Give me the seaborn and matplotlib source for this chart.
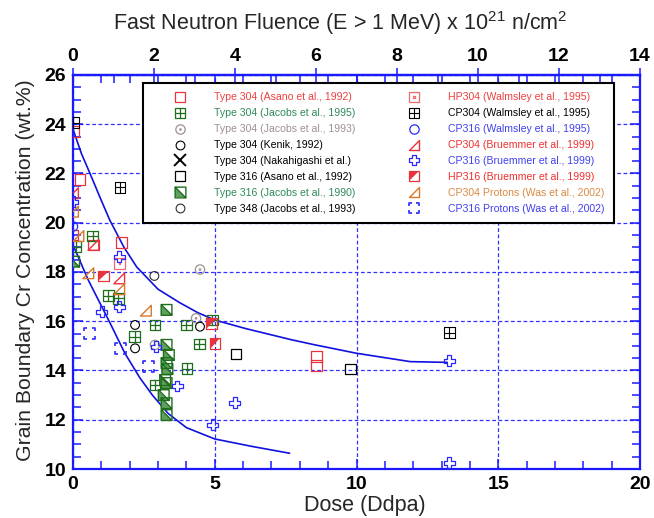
import numpy as np
import matplotlib
matplotlib.use("Agg")
import matplotlib.pyplot as plt
import seaborn as sns
from matplotlib.path import Path
from matplotlib.lines import Line2D
from matplotlib.ticker import MultipleLocator

# ---------------- data ----------------
asano304_x = [0.02, 0.25, 0.00, 1.72, 0.72, 8.60, 8.60]
asano304_y = [23.70, 21.75, 19.50, 19.20, 19.10, 14.56, 14.20]

jacobs95_x = [0.69, 0.10, 1.25, 1.60, 2.17, 2.89, 4.00, 4.46, 4.02, 2.89, 4.91]
jacobs95_y = [19.46, 19.03, 17.04, 16.93, 15.37, 15.85, 15.85, 15.08, 14.08, 13.41, 16.05]

jacobs93_x = [4.48, 4.34, 2.89]
jacobs93_y = [18.10, 16.12, 15.04]

kenik_x = [2.19, 2.19, 4.48]
kenik_y = [15.85, 14.90, 15.78]

naka_x = [0.48, 1.31, 7.22]
naka_y = [17.60, 15.85, 16.66]

asano316_x = [5.75, 9.80]
asano316_y = [14.67, 14.06]

jacobs90_x = [0.04, 3.30, 3.30, 3.38, 3.30, 3.33, 3.25, 3.30, 3.20, 3.30, 3.30]
jacobs90_y = [18.42, 16.46, 15.04, 14.63, 14.30, 14.06, 13.61, 13.49, 13.00, 12.67, 12.19]

t348_x = [2.87]
t348_y = [17.84]

hp304w_x = [1.63]
hp304w_y = [18.35]

cp304w_x = [0.01, 1.66, 13.27]
cp304w_y = [24.06, 21.44, 15.54]

cp316w_x = [0.00]
cp316w_y = [19.85]

cp304b_x = [0.00, 0.72, 1.63]
cp304b_y = [21.20, 19.10, 17.74]

cp316b_x = [0.00, 1.63, 1.01, 1.63, 2.93, 3.68, 4.93, 5.71, 13.27, 13.27]
cp316b_y = [20.85, 18.62, 16.39, 16.59, 14.97, 13.37, 11.80, 12.69, 14.40, 10.26]

hp316b_x = [1.07, 4.89, 5.01]
hp316b_y = [17.84, 15.90, 15.10]

cp304p_x = [0.00, 0.19, 0.54, 1.63, 2.57]
cp304p_y = [20.45, 19.46, 17.95, 17.30, 16.43]

cp316p_x = [0.58, 1.68, 2.66]
cp316p_y = [15.51, 14.90, 14.15]

upper_x = [0.0, 0.3, 0.6, 1.0, 1.3, 1.8, 2.25, 3.0, 3.77, 4.4, 5.0, 6.1, 7.7, 8.5, 10.0, 11.9, 13.2]
upper_y = [23.8, 22.8, 22.0, 20.9, 20.1, 19.0, 18.2, 17.3, 16.75, 16.35, 16.05, 15.7, 15.25, 15.05, 14.7, 14.36, 14.33]

lower_x = [0.0, 0.54, 1.31, 1.83, 2.36, 2.8, 3.36, 4.0, 5.0, 6.3, 7.64]
lower_y = [19.1, 17.67, 15.92, 14.7, 13.7, 13.0, 12.25, 11.68, 11.22, 10.92, 10.64]

labels_col1 = ["Type 304 (Asano et al., 1992)", "Type 304 (Jacobs et al., 1995)",
               "Type 304 (Jacobs et al., 1993)", "Type 304 (Kenik, 1992)",
               "Type 304 (Nakahigashi et al.)", "Type 316 (Asano et al., 1992)",
               "Type 316 (Jacobs et al., 1990)", "Type 348 (Jacobs et al., 1993)"]
labels_col2 = ["HP304 (Walmsley et al., 1995)", "CP304 (Walmsley et al., 1995)",
               "CP316 (Walmsley et al., 1995)", "CP304 (Bruemmer et al., 1999)",
               "CP316 (Bruemmer et al., 1999)", "HP316 (Bruemmer et al., 1999)",
               "CP304 Protons (Was et al., 2002)", "CP316 Protons (Was et al., 2002)"]

# ---------------- styling ----------------
sns.set_style("ticks")
plt.rcParams["font.family"] = ["Liberation Sans", "DejaVu Sans"]
plt.rcParams["mathtext.fontset"] = "custom"
plt.rcParams["mathtext.rm"] = "Liberation Sans"
plt.rcParams["mathtext.default"] = "regular"

RED = "#e8323c"
PINK = "#f06a6a"
GREEN = "#1e6e1e"
LGREEN = "#5fa05f"
GREY = "#a09090"
BLUE = "#2a2aff"
ORANGE = "#d8782a"
AXBLUE = "#1a1aff"

M = Path.MOVETO; L = Path.LINETO; C = Path.CLOSEPOLY


def mk(parts):
    v, c = [], []
    for pv, pc in parts:
        v += list(pv); c += list(pc)
    return Path(v, c)


SQ = ([(-1, -1), (1, -1), (1, 1), (-1, 1), (-1, -1)], [M, L, L, L, C])
grid_sq = mk([SQ, ([(0, -1), (0, 1), (-1, 0), (1, 0)], [M, L, M, L])])
d = 0.12
dot_sq = mk([SQ, ([(-d, -d), (d, -d), (d, d), (-d, d), (-d, -d)], [M, L, L, L, C])])
uc = Path.unit_circle()
dot_circ = mk([(uc.vertices, uc.codes), (uc.vertices * 0.15, uc.codes)])
diag_sq = mk([SQ, ([(-1, 1), (1, -1)], [M, L])])
tri_ll = Path([(-1, 1), (-1, -1), (1, -1), (-1, 1)], [M, L, L, C])
tri_ul = Path([(-1, -1), (-1, 1), (1, 1), (-1, -1)], [M, L, L, C])
rtri = Path([(-1, -1), (1, -1), (1, 1), (-1, -1)], [M, L, L, C])
a = 0.36
plus_v = [(-a, 1), (a, 1), (a, a), (1, a), (1, -a), (a, -a), (a, -1), (-a, -1),
          (-a, -a), (-1, -a), (-1, a), (-a, a), (-a, 1)]
plus_o = Path(plus_v, [M] + [L] * 11 + [C])
g = 0.45
brk = mk([([(-1, -g), (-1, -1), (-g, -1)], [M, L, L]),
          ([(g, -1), (1, -1), (1, -g)], [M, L, L]),
          ([(1, g), (1, 1), (g, 1)], [M, L, L]),
          ([(-g, 1), (-1, 1), (-1, g)], [M, L, L])])

# series: (x, y, marker, size, edgecolor, facecolor, lw)
series1 = [
    [(asano304_x, asano304_y, "s", 60, RED, "none", 0.9)],
    [(jacobs95_x, jacobs95_y, grid_sq, 60, GREEN, "none", 0.9)],
    [(jacobs93_x, jacobs93_y, dot_circ, 45, GREY, "none", 0.9)],
    [(kenik_x, kenik_y, "o", 40, "black", "none", 0.8)],
    [(naka_x, naka_y, "x", 85, "black", "none", 1.4)],
    [(asano316_x, asano316_y, "s", 60, "black", "none", 0.9)],
    [(jacobs90_x, jacobs90_y, tri_ll, 60, "none", LGREEN, 0.0),
     (jacobs90_x, jacobs90_y, diag_sq, 60, GREEN, "none", 1.0)],
    [(t348_x, t348_y, "o", 40, "#303030", "none", 0.8)],
]
series2 = [
    [(hp304w_x, hp304w_y, dot_sq, 60, PINK, "none", 0.9)],
    [(cp304w_x, cp304w_y, grid_sq, 60, "black", "none", 0.8)],
    [(cp316w_x, cp316w_y, "o", 45, BLUE, "none", 0.9)],
    [(cp304b_x, cp304b_y, rtri, 60, RED, "none", 1.0)],
    [(cp316b_x, cp316b_y, plus_o, 60, BLUE, "none", 0.9)],
    [(hp316b_x, hp316b_y, tri_ul, 60, "none", RED, 0.0),
     (hp316b_x, hp316b_y, "s", 60, RED, "none", 0.9)],
    [(cp304p_x, cp304p_y, rtri, 60, ORANGE, "none", 1.0)],
    [(cp316p_x, cp316p_y, brk, 60, BLUE, "none", 1.2)],
]
text_colors = ["#ee4040", "#2e8b57", GREY, "black", "black", "black", "#2e8b57", "black",
               "#ee4040", "black", "#4040ee", "#ee3030", "#4040ee", "#ee3030", "#d88a40", "#4040ee"]

fig = plt.figure(figsize=(6.54, 5.18), dpi=100)
ax = fig.add_axes([73 / 654, 1 - 469 / 518, 567 / 654, 394 / 518])

# fitted curves
sns.lineplot(x=upper_x, y=upper_y, sort=False, color="#1010e0", lw=1.2, ax=ax, zorder=2)
sns.lineplot(x=lower_x, y=lower_y, sort=False, color="#1010e0", lw=1.2, ax=ax, zorder=2)

handles = []
for grp in series1 + series2:
    hs = []
    for (xs, ys, m, s, ec, fc, lw) in grp:
        sns.scatterplot(x=xs, y=ys, marker=m, s=s, color=ec if ec != "none" else fc,
                        edgecolor=ec, facecolor=fc, linewidth=lw, ax=ax, zorder=3,
                        legend=False)
        hs.append(Line2D([], [], linestyle="", marker=m, markersize=np.sqrt(s),
                         markeredgecolor=ec, markerfacecolor=fc, markeredgewidth=lw))
    handles.append(tuple(hs) if len(hs) > 1 else hs[0])

ax.set_xlim(0, 20)
ax.set_ylim(10, 26)
ax.xaxis.set_major_locator(MultipleLocator(5))
ax.xaxis.set_minor_locator(MultipleLocator(1))
ax.yaxis.set_major_locator(MultipleLocator(2))
ax.yaxis.set_minor_locator(MultipleLocator(0.5))
ax.grid(True, which="major", color="#3030ff", linestyle=(0, (3, 2)), lw=0.9)
for sp in ax.spines.values():
    sp.set_visible(True)
    sp.set_color(AXBLUE)
    sp.set_linewidth(1.6)
ax.tick_params(which="both", direction="in", colors=AXBLUE, labelcolor="black",
               top=True, right=True, width=1.1)
ax.tick_params(which="major", length=7)
ax.tick_params(which="minor", length=6)
ax.tick_params(axis="both", labelsize=14, pad=5)
for t in ax.get_xticklabels() + ax.get_yticklabels():
    t.set_fontweight("bold")

ax.set_xlabel("Dose (Ddpa)", fontsize=15.5)
ax.xaxis.set_label_coords(0.515, -0.066)
ax.set_ylabel("Grain Boundary Cr Concentration (wt.%)", fontsize=15.3)
ax.yaxis.set_label_coords(-0.067, 0.505)

sec = ax.secondary_xaxis("top", functions=(lambda v: v * 0.7, lambda v: v / 0.7))
sec.set_xticks(np.arange(0, 15, 2))
sec.xaxis.set_minor_locator(MultipleLocator(1))
sec.tick_params(which="major", direction="inout", length=10, colors=AXBLUE,
                labelcolor="black", labelsize=14, width=1.1, pad=2)
sec.tick_params(which="minor", direction="in", length=6, colors=AXBLUE, width=1.1)
for t in sec.get_xticklabels():
    t.set_fontweight("bold")
sec.spines["top"].set_color(AXBLUE)
sec.spines["top"].set_linewidth(1.6)
sec.set_xlabel("Fast Neutron Fluence (E > 1 MeV) x 10$^{21}$ n/cm$^{2}$", fontsize=15.5)
sec.xaxis.set_label_coords(0.471, 1.114, transform=ax.transAxes)

leg = ax.legend(handles, labels_col1 + labels_col2, ncol=2, loc="upper left",
                bbox_to_anchor=(143 / 654, 1 - 83 / 518), bbox_transform=fig.transFigure,
                fontsize=7.6, frameon=True, fancybox=False, framealpha=1,
                edgecolor="black", borderpad=0.9, borderaxespad=0, handlelength=5.2,
                handletextpad=0.6, columnspacing=3.0, labelspacing=0.56, numpoints=1)
leg.get_frame().set_linewidth(1.5)
leg.set_zorder(10)
for txt, c in zip(leg.get_texts(), text_colors):
    txt.set_color(c)

fig.savefig("out.png", dpi=100)
